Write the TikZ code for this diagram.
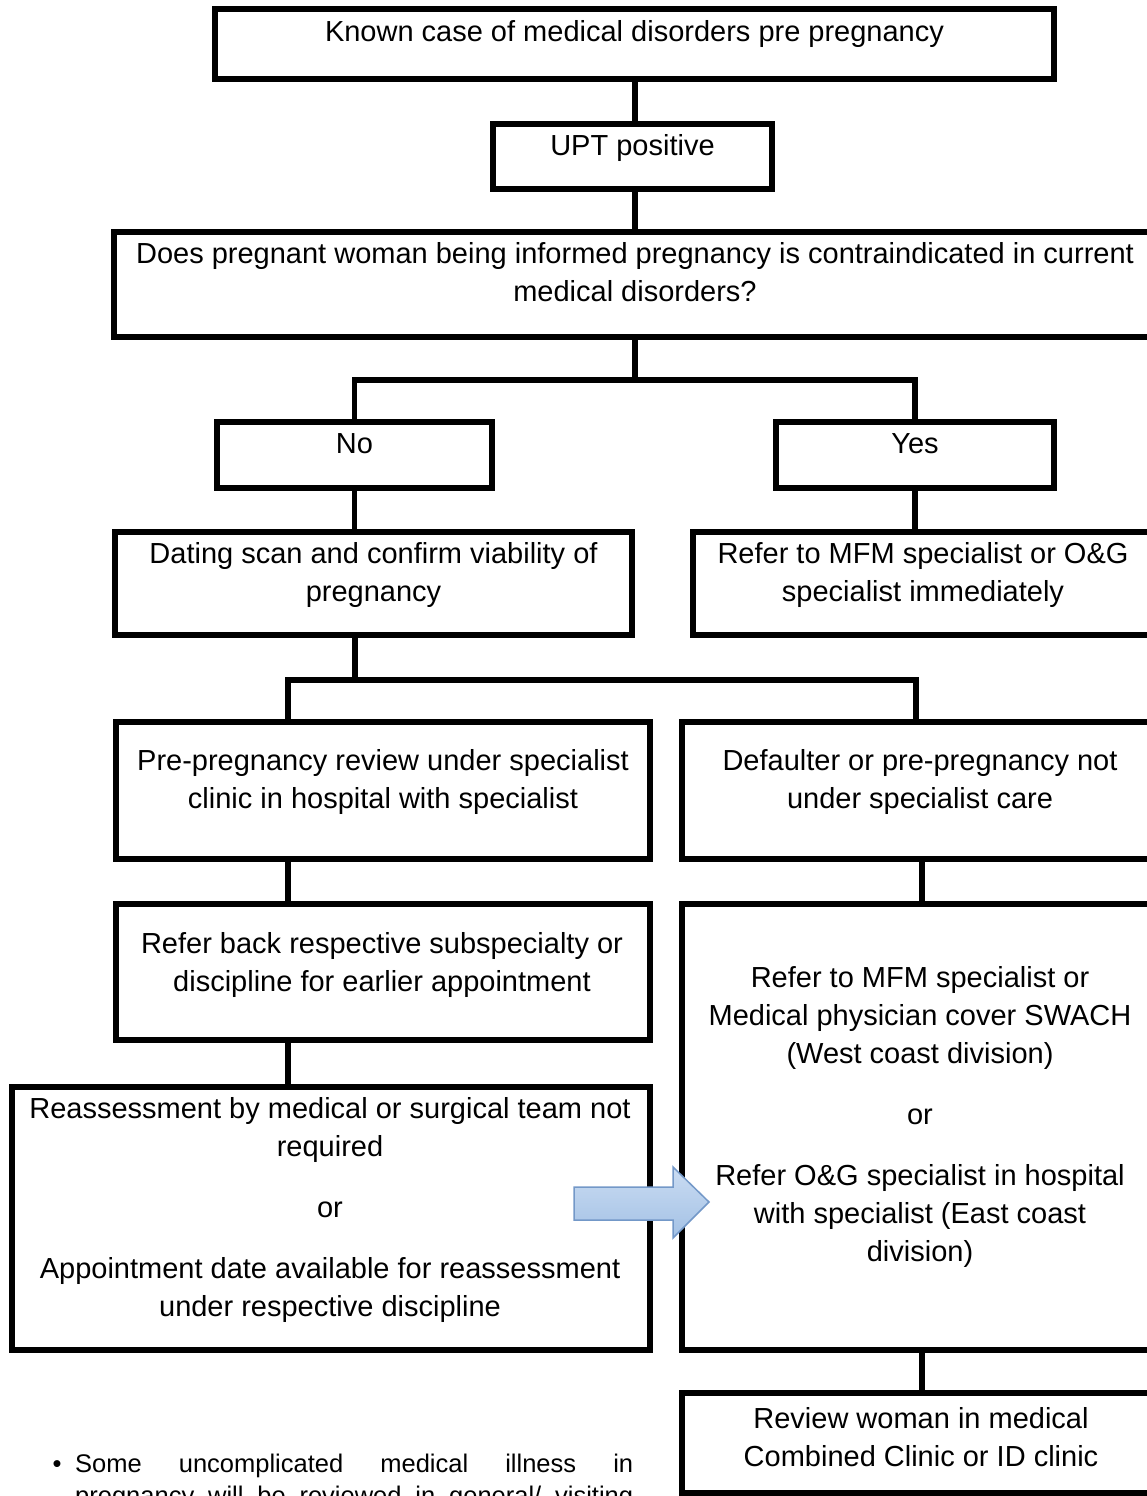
\documentclass[tikz,border=0pt]{standalone}
\usepackage{fontspec}
\setmainfont{Liberation Sans}
\usetikzlibrary{calc}
\newcommand\flowfont{\fontsize{29}{38}\selectfont}
\newcommand\notefont{\fontsize{25.5}{33}\selectfont}
\definecolor{arrowtop}{HTML}{CADCF2}
\definecolor{arrowbot}{HTML}{A3C1E5}
\definecolor{arrowedge}{HTML}{7398C8}

\begin{document}
\begin{tikzpicture}[x=1pt,y=-1pt,
  box/.style={draw=black, line width=6pt, inner sep=0pt, rectangle},
  link/.style={draw=black, line width=5.5pt},
  lbl/.style={anchor=base, inner sep=0pt, font=\flowfont},
  note/.style={anchor=base west, inner sep=0pt, font=\notefont},
]
\useasboundingbox (0,0) rectangle (1147,1496);
\clip (0,0) rectangle (1147,1496);

% ---- boxes ----
\node[box, minimum width=839pt, minimum height=70pt]  (known)     at (634.5,44)    {};
\node[box, minimum width=279pt, minimum height=65pt]  (upt)       at (632.5,156.5) {};
\node[box, minimum width=1043pt, minimum height=105pt](quest)     at (635.5,284.5) {};
\node[box, minimum width=275pt, minimum height=66pt]  (no)        at (354.5,455)   {};
\node[box, minimum width=278pt, minimum height=66pt]  (yes)       at (915,455)     {};
\node[box, minimum width=517pt, minimum height=103pt] (dating)    at (373.5,583.5) {};
\node[box, minimum width=462pt, minimum height=103pt] (mfm)       at (924,583.5)   {};
\node[box, minimum width=534pt, minimum height=137pt] (prereview) at (383,790.5)   {};
\node[box, minimum width=478pt, minimum height=137pt] (defaulter) at (921,790.5)   {};
\node[box, minimum width=534pt, minimum height=136pt] (referback) at (383,972)     {};
\node[box, minimum width=638pt, minimum height=263pt] (reassess)  at (331,1218.5)  {};
\node[box, minimum width=478pt, minimum height=446pt] (referbig)  at (921,1127)    {};
\node[box, minimum width=478pt, minimum height=100pt] (review)    at (921,1443)    {};

% ---- box texts ----
\node[lbl] (knownT) at (634.5,42) {\parbox[t]{1100pt}{\centering Known case of medical disorders pre pregnancy}};
\node[lbl] (uptT) at (632.5,155) {\parbox[t]{1100pt}{\centering UPT positive}};
\node[lbl] (questT) at (635,263) {\parbox[t]{1100pt}{\centering Does pregnant woman being informed pregnancy is contraindicated in current\\ medical disorders?}};
\node[lbl] (noT) at (354.5,453) {\parbox[t]{1100pt}{\centering No}};
\node[lbl] (yesT) at (915,453) {\parbox[t]{1100pt}{\centering Yes}};
\node[lbl] (datingT) at (373.5,563) {\parbox[t]{1100pt}{\centering Dating scan and confirm viability of\\ pregnancy}};
\node[lbl] (mfmT) at (923,563) {\parbox[t]{1100pt}{\centering Refer to MFM specialist or O\&G\\ specialist immediately}};
\node[lbl] (prereviewT) at (383,770) {\parbox[t]{1100pt}{\centering Pre-pregnancy review under specialist\\ clinic in hospital with specialist}};
\node[lbl] (defaulterT) at (920,770) {\parbox[t]{1100pt}{\centering Defaulter or pre-pregnancy not\\ under specialist care}};
\node[lbl] (referbackT) at (382,953) {\parbox[t]{1100pt}{\centering Refer back respective subspecialty or\\ discipline for earlier appointment}};
\node[lbl] (reassessT) at (330,1118) {\parbox[t]{1100pt}{\centering Reassessment by medical or surgical team not\\ required\\[23pt] or\\[23pt] Appointment date available for reassessment\\ under respective discipline}};
\node[lbl] (referbigT) at (920,987) {\parbox[t]{1100pt}{\centering Refer to MFM specialist or\\ Medical physician cover SWACH\\ (West coast division)\\[23pt] or\\[23pt] Refer O\&G specialist in hospital\\ with specialist (East coast\\ division)}};
\node[lbl] (reviewT) at (921,1428) {\parbox[t]{1100pt}{\centering Review woman in medical\\ Combined Clinic or ID clinic}};

% ---- connectors ----
\coordinate (fork1) at (635,380);
\coordinate (fork2) at (355,680);
\coordinate (fork2l) at (288,680);
\coordinate (fork2r) at (916,680);
\coordinate (rightrail) at (922,0);

\draw[link] (known.south -| fork1) -- (upt.north -| fork1);
\draw[link] (upt.south -| fork1) -- (quest.north -| fork1);
\draw[link] (quest.south -| fork1) -- (fork1);
\draw[link] (no.north) -- (no.north |- fork1) -- (yes.north |- fork1) -- (yes.north);
\draw[link] (no.south) -- (no.south |- dating.north);
\draw[link] (yes.south) -- (yes.south |- mfm.north);
\draw[link] (dating.south -| fork2) -- (fork2);
\draw[link] (prereview.north -| fork2l) -- (fork2l) -- (fork2r) -- (defaulter.north -| fork2r);
\draw[link] (prereview.south -| fork2l) -- (referback.north -| fork2l);
\draw[link] (referback.south -| fork2l) -- (reassess.north -| fork2l);
\draw[link] (defaulter.south -| rightrail) -- (referbig.north -| rightrail);
\draw[link] (referbig.south -| rightrail) -- (review.north -| rightrail);

% ---- block arrow between the two lower paths ----
\draw[arrowedge, line width=1.5pt, top color=arrowtop, bottom color=arrowbot]
  (574,1187) -- (673,1187) -- (673,1167) -- (709,1202) -- (673,1238)
  -- (673,1220) -- (574,1220) -- cycle;

% ---- footnote bullet ----
\node[note, anchor=base] (bulletmark) at (57,1472) {\textbullet};
\node[note] (noteA) at (75,1472) {\makebox[558pt][s]{Some uncomplicated medical illness in}};
\node[note] (noteB) at (75,1504) {\makebox[558pt][s]{pregnancy will be reviewed in general/ visiting}};
\end{tikzpicture}
\end{document}
